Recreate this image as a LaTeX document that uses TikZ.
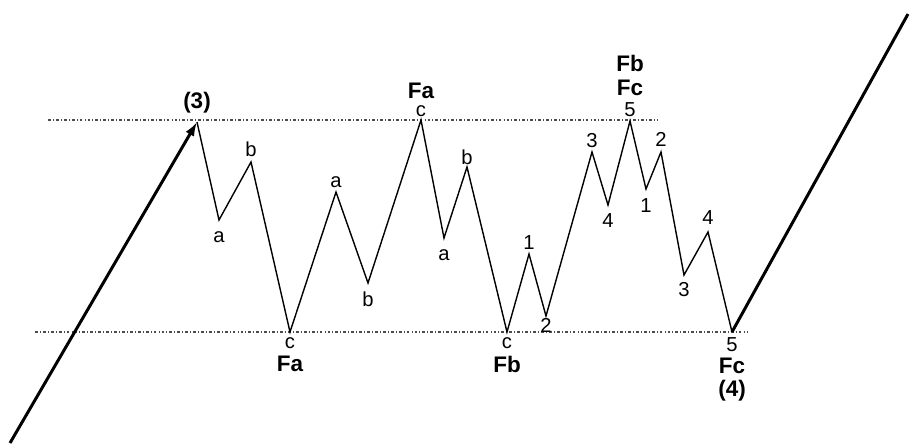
\documentclass[tikz,border=0pt]{standalone}
\usepackage{fontspec}
\setmainfont{Liberation Sans}
\usetikzlibrary{positioning, arrows.meta}

\begin{document}
\begin{tikzpicture}[x=0.02cm,y=-0.02cm,node distance=0pt,
    wave/.style={line width=0.8pt,line join=miter},
    trend/.style={line width=1.7pt},
    level/.style={line width=0.6pt,black!70,dash pattern=on 1.6pt off 1.2pt on 0.5pt off 1.2pt},
    lbl/.style={font=\fontsize{11.5}{13}\selectfont,inner sep=0pt},
    big/.style={font=\fontsize{12.8}{15}\selectfont\bfseries,inner sep=0pt}]
    \useasboundingbox (0,0) rectangle (910,444);
    % turning points of the flat
    \coordinate (start) at (10,443);
    \coordinate (top) at (197,122);
    \coordinate (a1) at (219,220);
    \coordinate (b1) at (251,162);
    \coordinate (c1) at (290,332);
    \coordinate (a2) at (336,192);
    \coordinate (b2) at (368,283);
    \coordinate (c2) at (421,120);
    \coordinate (a3) at (444,238);
    \coordinate (b3) at (467,167);
    \coordinate (c3) at (507,332);
    \coordinate (u1) at (529,254);
    \coordinate (u2) at (546,316);
    \coordinate (u3) at (592,152);
    \coordinate (u4) at (608,205);
    \coordinate (u5) at (630,121);
    \coordinate (d1) at (646,189);
    \coordinate (d2) at (661,152);
    \coordinate (d3) at (684,275);
    \coordinate (d4) at (708,232);
    \coordinate (d5) at (732,332);
    \coordinate (finish) at (908,14);
    \coordinate (hiL) at (48,120);
    \coordinate (hiR) at (657,120);
    \coordinate (loL) at (35,332);
    \coordinate (loR) at (748,332);

    \draw[level] (hiL) -- (hiR);
    \draw[level] (loL) -- (loR);
    \draw[trend,-{Latex[length=8pt,width=5.5pt]}] (start) -- (top);
    \draw[wave] (top) -- (a1) -- (b1) -- (c1) -- (a2) -- (b2) -- (c2)
        -- (a3) -- (b3) -- (c3) -- (u1) -- (u2) -- (u3) -- (u4) -- (u5)
        -- (d1) -- (d2) -- (d3) -- (d4) -- (d5);
    \draw[trend] (d5) -- (finish);

    % labels
    \node[big, above=5pt of top] (l3) {(3)};
    \node[lbl, below=6.5pt of a1] (la1) {a};
    \node[lbl, above=2.8pt of b1] (lb1) {b};
    \node[lbl, below=2.8pt of c1] (lc1) {c};
    \node[big, below=4pt of lc1] (fa1) {Fa};
    \node[lbl, above=1.5pt of c2] (lc2) {c};
    \node[big, above=3.5pt of lc2] (fa2) {Fa};
    \node[lbl, above=2.3pt of a2] (la2) {a};
    \node[lbl, below=5pt of b2] (lb2) {b};
    \node[lbl, below=6.5pt of a3] (la3) {a};
    \node[lbl, above=1.2pt of b3] (lb3) {b};
    \node[lbl, below=2.8pt of c3] (lc3) {c};
    \node[big, below=4pt of lc3] (fb1) {Fb};
    \node[lbl, above=2.3pt of u1] (lu1) {1};
    \node[lbl, below=1pt of u2] (lu2) {2};
    \node[lbl, above=2.3pt of u3] (lu3) {3};
    \node[lbl, below=4.5pt of u4] (lu4) {4};
    \node[lbl, above=2pt of u5] (lu5) {5};
    \node[big, above=4pt of lu5] (fc1) {Fc};
    \node[big, above=4pt of fc1] (fb2) {Fb};
    \node[lbl, below=5pt of d1] (ld1) {1};
    \node[lbl, above=2.8pt of d2] (ld2) {2};
    \node[lbl, below=4pt of d3] (ld3) {3};
    \node[lbl, above=4pt of d4] (ld4) {4};
    \node[lbl, below=2.8pt of d5] (ld5) {5};
    \node[big, below=3.5pt of ld5] (fc2) {Fc};
    \node[big, below=3pt of fc2] (l4) {(4)};
\end{tikzpicture}
\end{document}
